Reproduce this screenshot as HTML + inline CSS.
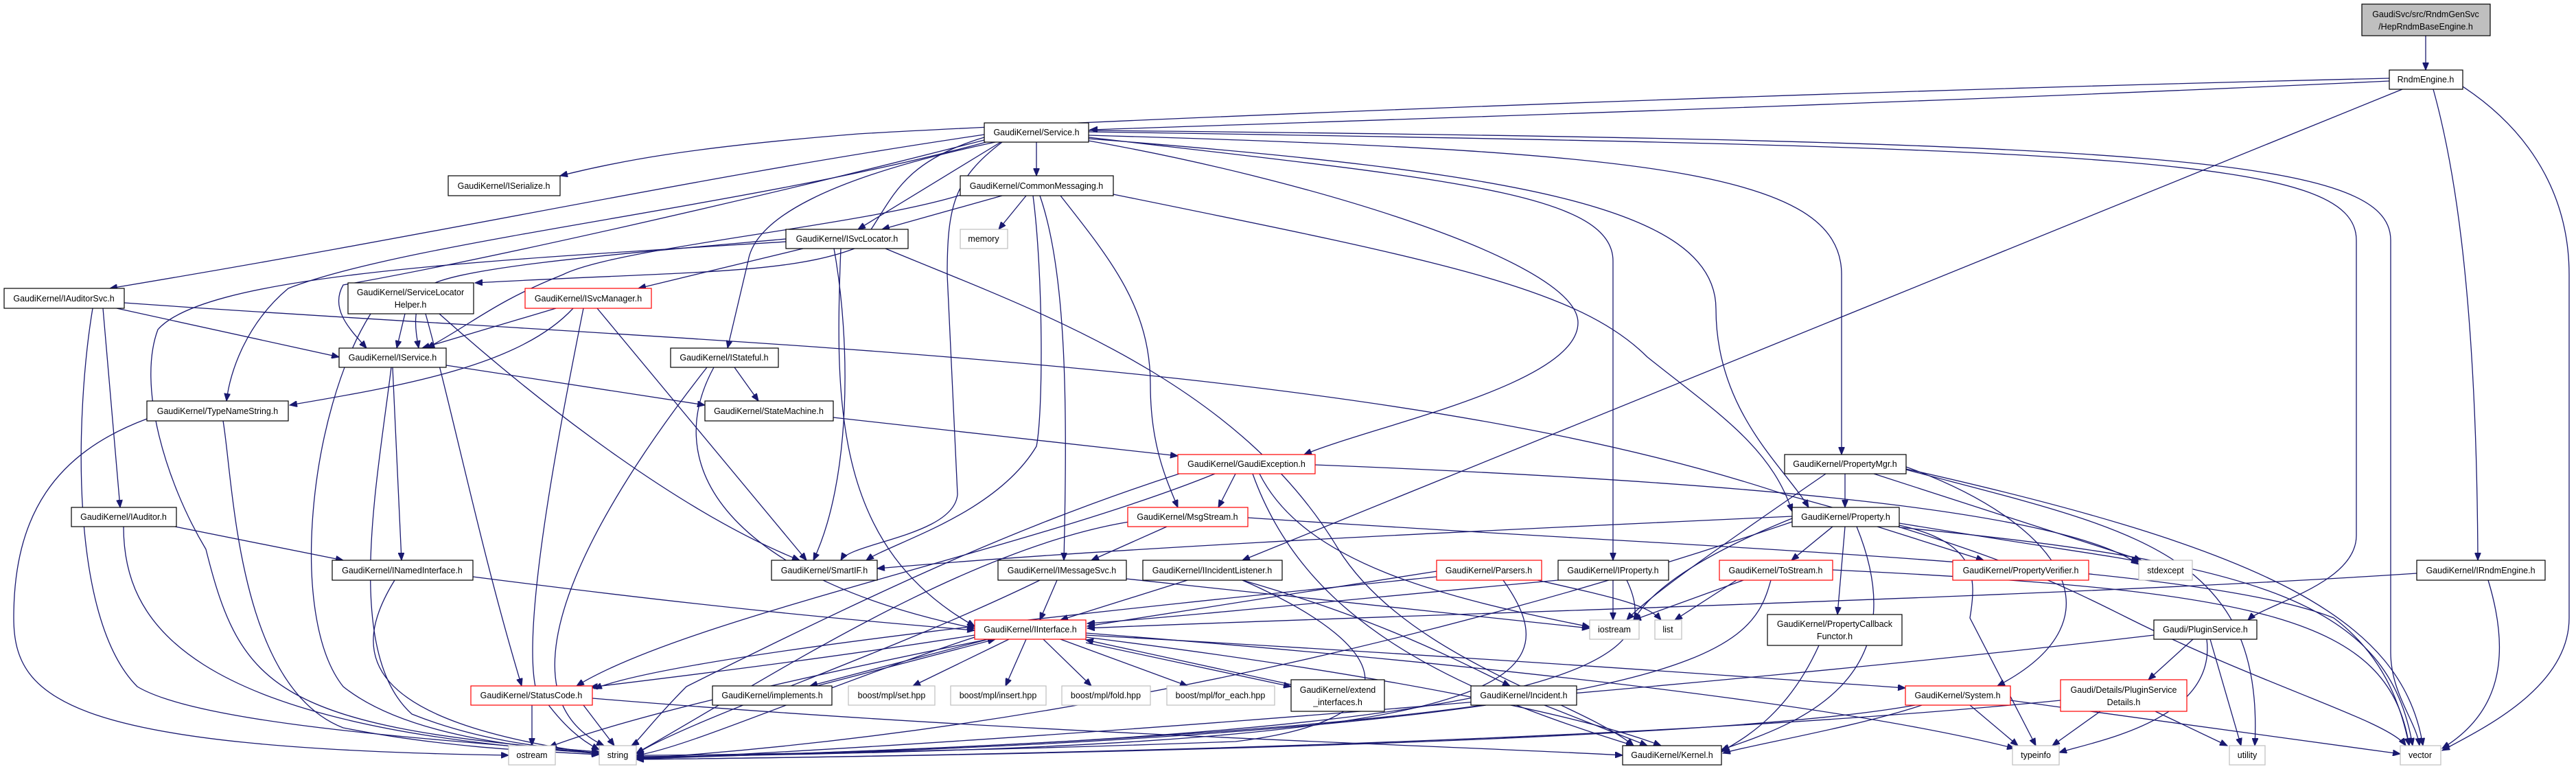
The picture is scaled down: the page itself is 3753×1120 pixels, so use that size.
<!DOCTYPE html>
<html><head><meta charset="utf-8"><style>
html,body{margin:0;padding:0;background:#fff;width:3753px;height:1120px;overflow:hidden}
svg{display:block}
text{font-family:"Liberation Sans",sans-serif;font-size:12.5px;fill:#000;text-anchor:middle}
.e{fill:none;stroke:#191970;stroke-width:1.3}
.n{fill:#fff;stroke:#000;stroke-width:1.2}
.r{fill:#fff;stroke:#ff0000;stroke-width:1.2}
.g{fill:#fff;stroke:#bfbfbf;stroke-width:1.2}
</style></head><body>
<svg width="3753" height="1120" viewBox="0 0 3753 1120" xmlns="http://www.w3.org/2000/svg">
<defs><marker id="a" markerUnits="userSpaceOnUse" markerWidth="12" markerHeight="9" refX="11" refY="4.5" orient="auto"><path d="M0,0 L11,4.5 L0,9 z" fill="#191970" stroke="#191970"/></marker></defs>
<g marker-end="url(#a)">
<path class="e" d="M3534,52 L3534,102"/>
<path class="e" d="M3481,114 C2500,137 1500,180 1250,195 C1000,215 900,235 816,256"/>
<path class="e" d="M3481,118 C2800,150 2000,175 1588,189"/>
<path class="e" d="M3500,130 L1810,816"/>
<path class="e" d="M3545,130 C3570,220 3608,400 3610,816"/>
<path class="e" d="M3588,126 C3700,200 3743,300 3743,400 L3743,900 C3743,1000 3620,1060 3558,1093"/>
<path class="e" d="M3625,845 C3660,960 3640,1040 3558,1090"/>
<path class="e" d="M3521,835 C3000,870 1900,900 1584,915"/>
<path class="e" d="M1510,207 L1510,256"/>
<path class="e" d="M1434,196 C1000,260 700,330 160,420"/>
<path class="e" d="M1434,200 C1300,240 1300,300 1250,360 C1150,400 1000,395 692,412"/>
<path class="e" d="M1434,204 C1100,290 700,380 500,415 C480,450 510,480 534,507"/>
<path class="e" d="M1458,207 L1250,334"/>
<path class="e" d="M1450,207 C1200,260 1100,320 1090,380 L1060,507"/>
<path class="e" d="M1440,206 C1100,300 600,350 420,420 C360,470 335,540 330,584"/>
<path class="e" d="M1460,207 C1390,260 1380,300 1380,400 L1395,720 C1390,780 1240,790 1225,816"/>
<path class="e" d="M1586,197 C2400,220 2683,250 2683,400 L2683,662"/>
<path class="e" d="M1586,202 C2200,250 2500,300 2500,450 C2500,600 2600,680 2635,739"/>
<path class="e" d="M1586,200 C2100,260 2350,280 2350,380 L2350,816"/>
<path class="e" d="M1586,192 C3100,215 3433,230 3433,350 L3433,780 C3433,850 3300,880 3275,903"/>
<path class="e" d="M1586,190 C3150,205 3483,230 3483,350 L3483,950 C3483,1010 3520,1050 3525,1086"/>
<path class="e" d="M1586,205 C1900,260 2299,380 2299,470 C2299,560 2000,620 1900,662"/>
<path class="e" d="M1460,285 L1285,334"/>
<path class="e" d="M1495,285 L1455,334"/>
<path class="e" d="M1400,284 C1250,330 900,360 820,400 C720,440 690,470 622,507"/>
<path class="e" d="M1545,285 C1620,380 1676,450 1676,560 C1676,650 1700,700 1716,739"/>
<path class="e" d="M1515,285 C1555,400 1555,600 1550,816"/>
<path class="e" d="M1505,285 C1520,400 1520,600 1510,650 C1450,750 1300,790 1262,816"/>
<path class="e" d="M1622,283 C2100,380 2300,420 2400,520 C2500,600 2580,650 2611,745"/>
<path class="e" d="M1170,362 L930,420"/>
<path class="e" d="M1145,348 C900,370 650,390 620,420 C600,450 605,480 610,507"/>
<path class="e" d="M1145,352 C700,380 300,400 230,480 C200,560 240,700 300,800 C350,1000 400,1060 873,1095"/>
<path class="e" d="M1215,362 C1240,500 1240,700 1185,816"/>
<path class="e" d="M1225,362 C1215,600 1220,800 1420,912"/>
<path class="e" d="M1290,362 C1500,450 1800,550 1950,800 C2050,960 2300,1020 2380,1086"/>
<path class="e" d="M170,449 L494,520"/>
<path class="e" d="M150,449 L175,739"/>
<path class="e" d="M135,449 C110,600 100,900 200,1000 C300,1060 700,1080 873,1098"/>
<path class="e" d="M181,441 C1000,500 2000,520 2600,720 C2900,800 3000,850 3100,900 C3300,1000 3480,1050 3505,1086"/>
<path class="e" d="M590,457 L578,507"/>
<path class="e" d="M620,457 C660,600 700,800 760,999"/>
<path class="e" d="M640,457 C800,600 1000,750 1165,816"/>
<path class="e" d="M540,457 C450,600 420,900 500,1000 C600,1080 800,1090 873,1097"/>
<path class="e" d="M810,449 L615,507"/>
<path class="e" d="M835,449 C760,530 600,560 422,590"/>
<path class="e" d="M870,449 L1175,816"/>
<path class="e" d="M850,449 C820,600 760,900 780,1000 C820,1060 850,1080 873,1092"/>
<path class="e" d="M650,532 L1027,590"/>
<path class="e" d="M572,535 L585,816"/>
<path class="e" d="M570,535 C550,700 500,950 600,1040 C700,1080 800,1090 873,1095"/>
<path class="e" d="M1070,535 L1105,584"/>
<path class="e" d="M1040,535 C950,700 1100,850 1420,915"/>
<path class="e" d="M1030,535 C900,700 700,1000 880,1086"/>
<path class="e" d="M325,613 C340,700 345,1000 500,1060 C650,1090 800,1095 873,1099"/>
<path class="e" d="M214,610 C80,660 20,750 20,900 C20,1020 100,1090 741,1100"/>
<path class="e" d="M255,767 L500,816"/>
<path class="e" d="M180,767 C180,900 260,1060 873,1097"/>
<path class="e" d="M689,840 C1000,880 1200,900 1420,918"/>
<path class="e" d="M575,845 C510,950 520,1050 873,1098"/>
<path class="e" d="M1214,608 L1716,664"/>
<path class="e" d="M1800,690 L1775,739"/>
<path class="e" d="M1835,690 C1900,820 2100,870 2316,913"/>
<path class="e" d="M1718,690 C1500,760 1300,850 1000,1000 C950,1050 930,1080 920,1086"/>
<path class="e" d="M1770,690 C1500,800 1000,900 840,999"/>
<path class="e" d="M1825,690 C1900,900 2100,1000 2380,1086"/>
<path class="e" d="M1916,677 C2500,700 3000,740 3116,822"/>
<path class="e" d="M1700,767 L1590,816"/>
<path class="e" d="M1645,760 C1400,800 1100,1000 927,1097"/>
<path class="e" d="M1818,754 C2500,800 3200,820 3400,900 C3480,960 3500,1040 3510,1086"/>
<path class="e" d="M1540,845 L1515,903"/>
<path class="e" d="M1515,845 C1300,950 1000,1050 927,1098"/>
<path class="e" d="M1641,843 L2316,915"/>
<path class="e" d="M1730,845 L1545,903"/>
<path class="e" d="M1810,845 C2000,900 2100,950 2200,999"/>
<path class="e" d="M1810,845 C2050,950 2050,1050 1800,1080 C1400,1095 1000,1100 927,1100"/>
<path class="e" d="M2093,832 L1584,912"/>
<path class="e" d="M2190,845 C2300,1000 2200,1090 927,1102"/>
<path class="e" d="M2240,845 C2350,870 2400,880 2420,903"/>
<path class="e" d="M2093,840 C1700,880 1000,950 866,1003"/>
<path class="e" d="M2270,845 C2000,870 1700,900 1584,908"/>
<path class="e" d="M2350,845 L2350,903"/>
<path class="e" d="M2370,845 C2420,950 2380,1070 927,1104"/>
<path class="e" d="M2540,845 L2380,903"/>
<path class="e" d="M2530,845 L2440,903"/>
<path class="e" d="M2580,845 C2550,950 2500,1060 927,1105"/>
<path class="e" d="M2670,830 C3300,860 3480,900 3510,1086"/>
<path class="e" d="M2670,767 L2610,816"/>
<path class="e" d="M2735,767 L2890,816"/>
<path class="e" d="M2767,762 C3000,800 3080,810 3116,818"/>
<path class="e" d="M2688,767 L2677,895"/>
<path class="e" d="M2767,765 C2880,790 2880,840 2870,900 L2966,1086"/>
<path class="e" d="M2705,767 C2800,1000 2600,1060 2508,1092"/>
<path class="e" d="M2611,752 C2000,780 1600,800 1278,828"/>
<path class="e" d="M2611,755 C2450,820 2400,870 2380,903"/>
<path class="e" d="M2767,768 C3300,820 3480,880 3515,1086"/>
<path class="e" d="M2611,760 C2200,900 1600,1060 927,1105"/>
<path class="e" d="M2688,690 L2688,739"/>
<path class="e" d="M2730,690 L3120,816"/>
<path class="e" d="M2777,683 C3300,800 3500,900 3530,1086"/>
<path class="e" d="M2660,690 C2500,800 2400,870 2370,903"/>
<path class="e" d="M2777,680 C3000,760 3100,900 2910,999"/>
<path class="e" d="M2777,684 C3100,770 3300,800 3285,1086"/>
<path class="e" d="M2650,940 C2600,1050 2530,1080 2508,1095"/>
<path class="e" d="M3195,931 L3130,990"/>
<path class="e" d="M3220,931 L3265,1086"/>
<path class="e" d="M3215,931 C3230,1050 3050,1080 3000,1096"/>
<path class="e" d="M3138,925 C2500,1000 1500,1080 927,1106"/>
<path class="e" d="M3060,1036 L2990,1086"/>
<path class="e" d="M3140,1036 L3245,1086"/>
<path class="e" d="M3002,1020 C2400,1080 1500,1100 927,1106"/>
<path class="e" d="M2870,1027 L2940,1086"/>
<path class="e" d="M2929,1020 L3497,1098"/>
<path class="e" d="M2800,1027 C2700,1060 2550,1085 2510,1097"/>
<path class="e" d="M2790,1027 C2500,1080 1500,1100 927,1106"/>
<path class="e" d="M1420,925 C1200,960 950,990 860,1001"/>
<path class="e" d="M1190,999 L1450,931"/>
<path class="e" d="M1440,931 L1180,999"/>
<path class="e" d="M1470,931 L1330,999"/>
<path class="e" d="M1495,931 L1465,999"/>
<path class="e" d="M1520,931 L1590,999"/>
<path class="e" d="M1545,931 L1730,999"/>
<path class="e" d="M1881,997 L1582,932"/>
<path class="e" d="M1582,936 L1881,1000"/>
<path class="e" d="M1582,925 C2200,960 2600,990 2776,1002"/>
<path class="e" d="M1582,928 C2000,980 2300,1040 2420,1086"/>
<path class="e" d="M1582,922 C2200,970 2700,1030 2935,1090"/>
<path class="e" d="M1420,928 C1200,1000 1000,1090 927,1100"/>
<path class="e" d="M1440,931 C1100,1000 900,1050 800,1088"/>
<path class="e" d="M775,1027 L775,1086"/>
<path class="e" d="M863,1017 C1500,1070 2100,1085 2364,1100"/>
<path class="e" d="M850,1027 L895,1086"/>
<path class="e" d="M2250,1027 L2400,1086"/>
<path class="e" d="M2165,1027 C1800,1080 1200,1100 927,1103"/>
</g>
<!-- nodes -->
<rect x="3441" y="6" width="187" height="46" fill="#bfbfbf" stroke="#000" stroke-width="1.2"/><text x="3534" y="25">GaudiSvc/src/RndmGenSvc</text><text x="3534" y="43">/HepRndmBaseEngine.h</text>
<rect class="n" x="3481" y="102" width="107" height="28"/><text x="3534" y="120">RndmEngine.h</text>
<rect class="n" x="1434" y="179" width="152" height="28"/><text x="1510" y="197">GaudiKernel/Service.h</text>
<rect class="n" x="653" y="256" width="163" height="29"/><text x="734" y="275">GaudiKernel/ISerialize.h</text>
<rect class="n" x="1399" y="256" width="223" height="29"/><text x="1510" y="275">GaudiKernel/CommonMessaging.h</text>
<rect class="n" x="1145" y="334" width="178" height="28"/><text x="1234" y="352">GaudiKernel/ISvcLocator.h</text>
<rect class="g" x="1399" y="334" width="69" height="28"/><text x="1433" y="352">memory</text>
<rect class="n" x="6" y="420" width="175" height="29"/><text x="93" y="439">GaudiKernel/IAuditorSvc.h</text>
<rect class="n" x="507" y="412" width="183" height="45"/><text x="598" y="430">GaudiKernel/ServiceLocator</text><text x="598" y="448">Helper.h</text>
<rect class="r" x="765" y="420" width="184" height="29"/><text x="857" y="439">GaudiKernel/ISvcManager.h</text>
<rect class="n" x="494" y="507" width="156" height="28"/><text x="572" y="525">GaudiKernel/IService.h</text>
<rect class="n" x="977" y="507" width="157" height="28"/><text x="1055" y="525">GaudiKernel/IStateful.h</text>
<rect class="n" x="214" y="584" width="206" height="29"/><text x="317" y="603">GaudiKernel/TypeNameString.h</text>
<rect class="n" x="1027" y="584" width="187" height="29"/><text x="1120" y="603">GaudiKernel/StateMachine.h</text>
<rect class="r" x="1716" y="662" width="200" height="28"/><text x="1816" y="680">GaudiKernel/GaudiException.h</text>
<rect class="n" x="2600" y="662" width="177" height="28"/><text x="2688" y="680">GaudiKernel/PropertyMgr.h</text>
<rect class="n" x="104" y="739" width="153" height="28"/><text x="180" y="757">GaudiKernel/IAuditor.h</text>
<rect class="r" x="1643" y="739" width="175" height="28"/><text x="1730" y="757">GaudiKernel/MsgStream.h</text>
<rect class="n" x="2611" y="739" width="156" height="28"/><text x="2689" y="757">GaudiKernel/Property.h</text>
<rect class="n" x="484" y="816" width="205" height="29"/><text x="586" y="835">GaudiKernel/INamedInterface.h</text>
<rect class="n" x="1124" y="816" width="154" height="29"/><text x="1201" y="835">GaudiKernel/SmartIF.h</text>
<rect class="n" x="1454" y="816" width="187" height="29"/><text x="1547" y="835">GaudiKernel/IMessageSvc.h</text>
<rect class="n" x="1665" y="816" width="203" height="29"/><text x="1766" y="835">GaudiKernel/IIncidentListener.h</text>
<rect class="r" x="2093" y="816" width="153" height="29"/><text x="2169" y="835">GaudiKernel/Parsers.h</text>
<rect class="n" x="2270" y="816" width="161" height="29"/><text x="2350" y="835">GaudiKernel/IProperty.h</text>
<rect class="r" x="2505" y="816" width="165" height="29"/><text x="2587" y="835">GaudiKernel/ToStream.h</text>
<rect class="r" x="2845" y="816" width="198" height="29"/><text x="2944" y="835">GaudiKernel/PropertyVerifier.h</text>
<rect class="g" x="3116" y="816" width="78" height="29"/><text x="3155" y="835">stdexcept</text>
<rect class="n" x="3521" y="816" width="187" height="29"/><text x="3614" y="835">GaudiKernel/IRndmEngine.h</text>
<rect class="r" x="1420" y="903" width="162" height="28"/><text x="1501" y="921">GaudiKernel/IInterface.h</text>
<rect class="g" x="2316" y="903" width="72" height="28"/><text x="2352" y="921">iostream</text>
<rect class="g" x="2411" y="903" width="39" height="28"/><text x="2430" y="921">list</text>
<rect class="n" x="2575" y="895" width="196" height="45"/><text x="2673" y="913">GaudiKernel/PropertyCallback</text><text x="2673" y="931">Functor.h</text>
<rect class="n" x="3138" y="903" width="150" height="28"/><text x="3213" y="921">Gaudi/PluginService.h</text>
<rect class="r" x="686" y="999" width="177" height="28"/><text x="774" y="1017">GaudiKernel/StatusCode.h</text>
<rect class="n" x="1038" y="999" width="174" height="28"/><text x="1125" y="1017">GaudiKernel/implements.h</text>
<rect class="g" x="1236" y="999" width="126" height="28"/><text x="1299" y="1017">boost/mpl/set.hpp</text>
<rect class="g" x="1385" y="999" width="139" height="28"/><text x="1454" y="1017">boost/mpl/insert.hpp</text>
<rect class="g" x="1547" y="999" width="129" height="28"/><text x="1611" y="1017">boost/mpl/fold.hpp</text>
<rect class="g" x="1700" y="999" width="157" height="28"/><text x="1778" y="1017">boost/mpl/for_each.hpp</text>
<rect class="n" x="1881" y="990" width="136" height="46"/><text x="1949" y="1009">GaudiKernel/extend</text><text x="1949" y="1027">_interfaces.h</text>
<rect class="n" x="2143" y="999" width="154" height="28"/><text x="2220" y="1017">GaudiKernel/Incident.h</text>
<rect class="r" x="2776" y="999" width="153" height="28"/><text x="2852" y="1017">GaudiKernel/System.h</text>
<rect class="r" x="3002" y="990" width="184" height="46"/><text x="3094" y="1009">Gaudi/Details/PluginService</text><text x="3094" y="1027">Details.h</text>
<rect class="g" x="741" y="1086" width="68" height="28"/><text x="775" y="1104">ostream</text>
<rect class="g" x="873" y="1086" width="54" height="28"/><text x="900" y="1104">string</text>
<rect class="n" x="2364" y="1086" width="144" height="28"/><text x="2436" y="1104">GaudiKernel/Kernel.h</text>
<rect class="g" x="2932" y="1086" width="68" height="28"/><text x="2966" y="1104">typeinfo</text>
<rect class="g" x="3248" y="1086" width="52" height="28"/><text x="3274" y="1104">utility</text>
<rect class="g" x="3497" y="1086" width="59" height="28"/><text x="3526" y="1104">vector</text>
</svg>
</body></html>
